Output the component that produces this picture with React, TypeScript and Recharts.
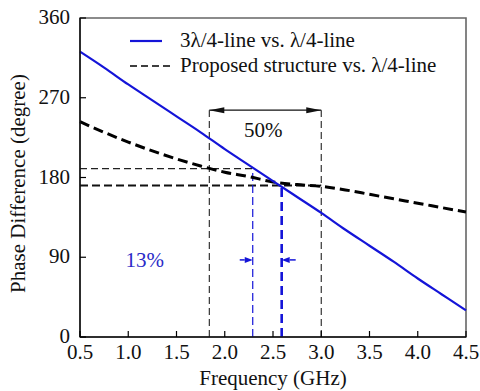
import {
  ComposedChart,
  Line,
  XAxis,
  YAxis,
  ReferenceLine,
  ReferenceArea,
  ReferenceDot
} from 'recharts'

// frequency points (GHz)
const frequency = [0.5, 0.75, 1.0, 1.25, 1.5, 1.75, 2.0, 2.25, 2.5, 2.75, 3.0, 3.25, 3.5, 3.75, 4.0, 4.25, 4.5]
// 3λ/4-line vs. λ/4-line (degree)
const threeQuarterLine = [322, 304, 285, 267, 249, 231, 212, 194, 176, 158, 140, 121, 103, 85, 66, 48, 30]
// proposed structure vs. λ/4-line (degree)
const proposedLine = [243, 231, 220, 210, 201, 193, 186, 181, 175, 172, 170, 166, 161, 156, 151, 146, 141]

const xTicks = [0.5, 1.0, 1.5, 2.0, 2.5, 3.0, 3.5, 4.0, 4.5]
const yTicks = [0, 90, 180, 270, 360]

// bandwidth annotations
const band50 = [1.84, 3.0]
const band13 = [2.29, 2.59]
const phaseLevels = [190, 171]
const arrowLevels = [256, 87]
const labelSpots = [
  { x: 2.4, y: 234, text: '50%' },
  { x: 1.17, y: 87, text: '13%' }
]

const BLUE = '#1414d8'
const FONT_CSS = '.fig, .fig * { font-family: "Liberation Serif", Times !important; }'

const data = frequency.map((f, i) => ({
  x: f,
  blue: threeQuarterLine[i],
  proposed: proposedLine[i]
}))

const XTick = ({ x, y, payload }: any) => (
  <g>
    <line x1={x} x2={x} y1={y} y2={y - 6} stroke="#000" strokeWidth={1.2} />
    <text x={x} y={y + 22} textAnchor="middle" fontSize={21} fill="#111">
      {payload.value.toFixed(1)}
    </text>
  </g>
)

const YTick = ({ x, y, payload }: any) => (
  <g>
    <line x1={x} x2={x + 6} y1={y} y2={y} stroke="#000" strokeWidth={1.2} />
    <text x={x - 10} y={y + 6} textAnchor="end" fontSize={21} fill="#111">
      {payload.value}
    </text>
  </g>
)

const arrowHead = (dir: number, color: string, len: number, half: number, tail: number) => (props: any) => {
  const { cx, cy } = props
  const base = cx - dir * len
  return (
    <g>
      {tail > 0 && (
        <line x1={cx - dir * tail} x2={base} y1={cy} y2={cy} stroke={color} strokeWidth={1.5} />
      )}
      <path d={`M${cx},${cy} L${base},${cy - half} L${base},${cy + half} Z`} fill={color} />
    </g>
  )
}

const textShape = (text: string, color: string) => (props: any) => (
  <text x={props.cx} y={props.cy + 7} textAnchor="middle" fontSize={21} fill={color}>
    {text}
  </text>
)

const LegendBox = () => (
  <div style={{ position: 'absolute', left: 128, top: 28, width: 340, height: 52, fontSize: 21, color: '#111' }}>
    <svg width={50} height={52} style={{ position: 'absolute', left: 0, top: 0 }}>
      <line x1={2} x2={34} y1={13} y2={13} stroke={BLUE} strokeWidth={2.2} />
      <line x1={2} x2={42} y1={38} y2={38} stroke="#000" strokeWidth={1.3} strokeDasharray="7 4" />
    </svg>
    <div style={{ position: 'absolute', left: 52, top: 0, lineHeight: '25px', whiteSpace: 'nowrap' }}>
      3λ/4-line vs. λ/4-line
    </div>
    <div style={{ position: 'absolute', left: 52, top: 25, lineHeight: '25px', whiteSpace: 'nowrap' }}>
      Proposed structure vs. λ/4-line
    </div>
  </div>
)

export default function App() {
  return (
    <div className="fig" style={{ position: 'absolute', left: 0, top: 0, width: 480, height: 391, background: '#fff' }}>
      <style>{FONT_CSS}</style>
      <ComposedChart width={480} height={391} data={data} margin={{ top: 18, right: 14, left: 0, bottom: 0 }}>
        <ReferenceArea x1={0.5} x2={4.5} y1={0} y2={360} fill="none" fillOpacity={0} stroke="#666" strokeWidth={1.6} />
        <XAxis
          dataKey="x"
          type="number"
          domain={[0.5, 4.5]}
          ticks={xTicks}
          height={54}
          tickSize={0}
          tickMargin={0}
          tickLine={false}
          tick={<XTick />}
          axisLine={{ stroke: '#111', strokeWidth: 1.5 }}
          label={{
            content: ({ viewBox }: any) => (
              <text x={viewBox.x + viewBox.width / 2} y={385} textAnchor="middle" fontSize={21} fill="#111">
                Frequency (GHz)
              </text>
            )
          }}
        />
        <YAxis
          type="number"
          domain={[0, 360]}
          ticks={yTicks}
          width={80}
          tickSize={0}
          tickMargin={0}
          tickLine={false}
          tick={<YTick />}
          axisLine={{ stroke: '#111', strokeWidth: 1.5 }}
          label={{
            content: ({ viewBox }: any) => {
              const cx = 18
              const cy = viewBox.y + viewBox.height / 2 + 6
              return (
                <text
                  x={cx}
                  y={cy}
                  transform={`rotate(-90, ${cx}, ${cy})`}
                  textAnchor="middle"
                  dominantBaseline="central"
                  fontSize={21}
                  fill="#111"
                >
                  Phase Difference (degree)
                </text>
              )
            }
          }}
        />

        {/* 50% bandwidth bracket */}
        <ReferenceLine segment={[{ x: band50[0], y: 0 }, { x: band50[0], y: arrowLevels[0] }]} stroke="#222" strokeWidth={1.1} strokeDasharray="7 4" />
        <ReferenceLine segment={[{ x: band50[1], y: 0 }, { x: band50[1], y: arrowLevels[0] }]} stroke="#222" strokeWidth={1.1} strokeDasharray="7 4" />
        <ReferenceLine segment={[{ x: band50[0], y: arrowLevels[0] }, { x: band50[1], y: arrowLevels[0] }]} stroke="#111" strokeWidth={1.4} />
        <ReferenceDot x={band50[0]} y={arrowLevels[0]} shape={arrowHead(-1, '#111', 15, 3, 0)} />
        <ReferenceDot x={band50[1]} y={arrowLevels[0]} shape={arrowHead(1, '#111', 15, 3, 0)} />

        {/* phase reference levels */}
        <ReferenceLine segment={[{ x: 0.5, y: phaseLevels[0] }, { x: band13[0], y: phaseLevels[0] }]} stroke="#222" strokeWidth={1.1} strokeDasharray="7 4" />
        <ReferenceLine segment={[{ x: 0.5, y: phaseLevels[1] }, { x: band50[1], y: phaseLevels[1] }]} stroke="#111" strokeWidth={2} strokeDasharray="8 4" />

        {/* 13% bandwidth markers */}
        <ReferenceLine segment={[{ x: band13[0], y: 0 }, { x: band13[0], y: phaseLevels[0] }]} stroke={BLUE} strokeWidth={1.2} strokeDasharray="8 4" />
        <ReferenceLine segment={[{ x: band13[1], y: 0 }, { x: band13[1], y: phaseLevels[1] }]} stroke={BLUE} strokeWidth={2.6} strokeDasharray="9 5" />
        <ReferenceDot x={band13[0]} y={arrowLevels[1]} shape={arrowHead(1, BLUE, 8, 3, 13)} />
        <ReferenceDot x={band13[1]} y={arrowLevels[1]} shape={arrowHead(-1, BLUE, 8, 3, 14)} />

        <ReferenceDot x={labelSpots[0].x} y={labelSpots[0].y} shape={textShape(labelSpots[0].text, '#111')} />
        <ReferenceDot x={labelSpots[1].x} y={labelSpots[1].y} shape={textShape(labelSpots[1].text, '#2a2ac8')} />

        <Line
          type="monotone"
          dataKey="proposed"
          name="Proposed structure vs. λ/4-line"
          stroke="#000"
          strokeWidth={3}
          strokeDasharray="10 5"
          dot={false}
          isAnimationActive={false}
        />
        <Line
          type="monotone"
          dataKey="blue"
          name="3λ/4-line vs. λ/4-line"
          stroke={BLUE}
          strokeWidth={2.2}
          dot={false}
          isAnimationActive={false}
        />
      </ComposedChart>
      <LegendBox />
    </div>
  )
}
